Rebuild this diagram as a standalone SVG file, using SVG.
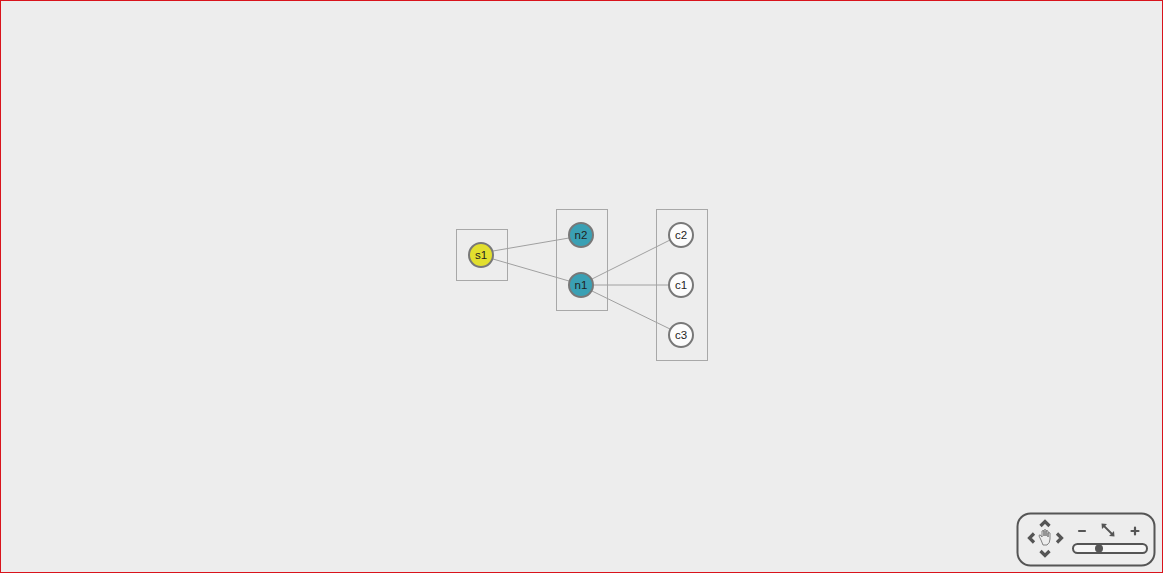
<svg xmlns="http://www.w3.org/2000/svg" width="1163" height="573" viewBox="0 0 1163 573">
<style>
.grp{fill:none;stroke:#a8a8a8;stroke-width:1}
.edge{stroke:#a0a0a0;stroke-width:1;fill:none}
.node{stroke:#787878;stroke-width:2}
.lbl{font-family:"Liberation Sans",Arial,sans-serif;font-size:11.5px;text-anchor:middle;dominant-baseline:central;fill:#222}
.ctl{fill:none;stroke:#555;stroke-linecap:round;stroke-linejoin:round}
.chev{fill:none;stroke:#555;stroke-width:3.2;stroke-linecap:butt;stroke-linejoin:miter}
</style>
<rect x="0.5" y="0.5" width="1162" height="572" fill="#ededed" stroke="#d9141c" stroke-width="1"/>
<g id="groups">
<rect class="grp" x="456.5" y="229.5" width="51" height="51"/>
<rect class="grp" x="556.5" y="209.5" width="51" height="101"/>
<rect class="grp" x="656.5" y="209.5" width="51" height="151"/>
</g>
<g id="connectors">
<line class="edge" x1="493" y1="251" x2="569" y2="238"/>
<line class="edge" x1="493" y1="259" x2="569" y2="281"/>
<line class="edge" x1="592" y1="279" x2="670" y2="240"/>
<line class="edge" x1="594" y1="285" x2="668" y2="285"/>
<line class="edge" x1="592" y1="291" x2="670" y2="329"/>
</g>
<g id="s1"><circle class="node" cx="481" cy="255" r="12" fill="#e2df2e"/><text class="lbl" x="481" y="255">s1</text></g>
<g id="n2"><circle class="node" cx="581" cy="235" r="12" fill="#3aa0b4"/><text class="lbl" x="581" y="235">n2</text></g>
<g id="n1"><circle class="node" cx="581" cy="285" r="12" fill="#3aa0b4"/><text class="lbl" x="581" y="285">n1</text></g>
<g id="c2"><circle class="node" cx="681" cy="235" r="12" fill="#fcfcfc"/><text class="lbl" x="681" y="235">c2</text></g>
<g id="c1"><circle class="node" cx="681" cy="285" r="12" fill="#fcfcfc"/><text class="lbl" x="681" y="285">c1</text></g>
<g id="c3"><circle class="node" cx="681" cy="335" r="12" fill="#fcfcfc"/><text class="lbl" x="681" y="335">c3</text></g>
<g id="navigator">
<rect x="1017.5" y="513.5" width="137" height="52" rx="13" fill="#ededed" stroke="#555" stroke-width="2"/>
<path class="chev" d="M1040.5 526 L1045 521.5 L1049.5 526"/>
<path class="chev" d="M1040.5 551 L1045 555.5 L1049.5 551"/>
<path class="chev" d="M1034 533.5 L1029.5 538 L1034 542.5"/>
<path class="chev" d="M1057 533.5 L1061.5 538 L1057 542.5"/>
<path fill="none" stroke="#666" stroke-width="0.8" d="M1041 540 L1039 536 Q1039 534 1041 535.5 L1042 537 L1042 531 Q1043 530 1044 531 L1044 536 L1044 530 Q1045 529 1046 530 L1046 536 L1046 531 Q1047 530 1048 531 L1048 537 L1048 533 Q1049 532 1050 533 L1050 539 Q1050 543 1047 545 L1043 545 Z"/>
<path class="ctl" stroke-width="2.2" d="M1079 531 L1085 531"/>
<path class="ctl" stroke-width="2.2" d="M1131.5 531 L1138.5 531 M1135 527.5 L1135 534.5"/>
<path class="ctl" stroke-width="1.8" d="M1103 525 L1113 535"/>
<path fill="#555" d="M1101.5 523.5 L1107 524 L1102 529 Z M1114.5 536.5 L1109 536 L1114 531 Z"/>
<rect x="1073" y="544" width="74" height="9" rx="4.5" fill="#f5f5f5" stroke="#555" stroke-width="2"/>
<circle cx="1099" cy="548.5" r="4" fill="#555"/>
</g>
</svg>
